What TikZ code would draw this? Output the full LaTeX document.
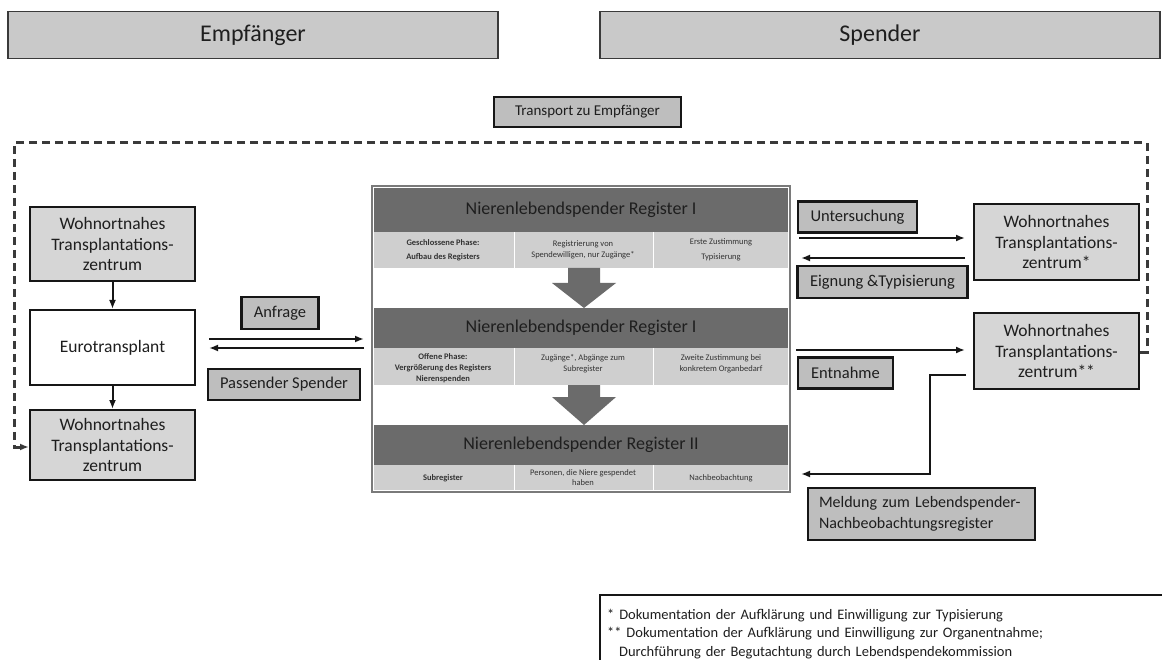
\documentclass[tikz,border=0pt]{standalone}
\usepackage{fontspec}
\setmainfont{Carlito}
\usetikzlibrary{arrows.meta,calc}
\definecolor{hdr}{HTML}{C9C9C9}
\definecolor{hdrline}{HTML}{3A3A3A}
\definecolor{lblfill}{HTML}{BEBEBE}
\definecolor{wfill}{HTML}{D6D6D6}
\definecolor{darkbar}{HTML}{6B6B6B}
\definecolor{lightrow}{HTML}{CFCFCF}
\definecolor{txt}{HTML}{1E1E1E}
\definecolor{smalltxt}{HTML}{333333}
\definecolor{panelline}{HTML}{7A7A7A}
\definecolor{lineclr}{HTML}{161616}
\begin{document}
\begin{tikzpicture}[x=1pt,y=-1pt,
  hdrbox/.style={draw=hdrline, line width=1.5pt, fill=hdr, text=txt, inner sep=0pt,
    font=\fontsize{24}{28}\selectfont},
  lbl/.style={draw=lineclr, line width=2.5pt, fill=lblfill, text=txt, inner sep=0pt,
    font=\fontsize{16.5}{20}\selectfont},
  wbox/.style={draw=lineclr, line width=2pt, fill=wfill, text=txt, inner sep=0pt, align=center,
    minimum width=165pt, font=\fontsize{17.5}{20.5}\selectfont},
  regbar/.style={fill=darkbar, inner sep=0pt, minimum width=414pt, text=txt,
    font=\fontsize{18}{22}\selectfont},
  regrow/.style={fill=lightrow, inner sep=0pt, minimum width=414pt},
  coltxt/.style={text=smalltxt, align=center, inner sep=0pt, font=\fontsize{8.5}{11}\selectfont},
  colbold/.style={coltxt, font=\fontsize{8.5}{11}\selectfont\bfseries},
  conn/.style={line width=2pt, draw=lineclr},
  arr/.style={conn, -{Latex[length=9pt,width=7pt]}},
  dashln/.style={line width=3pt, draw=hdrline, dash pattern=on 8pt off 5pt,
    -{Latex[length=9pt,width=7pt]}},
  blk/.style={fill=darkbar}
]
\useasboundingbox (0,0) rectangle (1162,660);
\clip (0,0) rectangle (1162,660);

% headers
\node[hdrbox, minimum width=490pt, minimum height=47pt] (hemp) at (253,35) {Empfänger};
\node[hdrbox, minimum width=560pt, minimum height=47pt] (hspe) at (880,35) {Spender};

% transport label
\node[lbl, minimum width=187pt, minimum height=30pt, font=\fontsize{15}{18}\selectfont] (trans) at (587.5,112) {Transport zu Empfänger};

% left column
\node[wbox, minimum height=74pt] (lw1) at (112.5,244) {Wohnortnahes\\Transplantations-\\zentrum};
\node[wbox, minimum height=75pt, fill=white] (euro) at (112.5,347.5) {Eurotransplant};
\node[wbox, minimum height=70pt] (lw2) at (112.5,445) {Wohnortnahes\\Transplantations-\\zentrum};

\node[lbl, minimum width=77pt, minimum height=32pt] (anf) at (280,313) {Anfrage};
\node[lbl, minimum width=152pt, minimum height=31pt] (pass) at (284,384.5) {Passender Spender};

% central register panel
\node[draw=panelline, line width=2pt, fill=white, minimum width=418pt, minimum height=306pt, inner sep=0pt] (panel) at (581,339) {};

\node[regbar, minimum height=44pt] (r1) at (581,210) {Nierenlebendspender Register I};
\node[regrow, minimum height=36pt] (r1row) at (581,250) {};
\node[regbar, minimum height=40pt] (r2) at (581,328) {Nierenlebendspender Register I};
\node[regrow, minimum height=37pt] (r2row) at (581,366.5) {};
\node[regbar, minimum height=40pt] (r3) at (581,445) {Nierenlebendspender Register II};
\node[regrow, minimum height=25pt] (r3row) at (581,477.5) {};

\foreach \r in {r1row,r2row,r3row}{
  \draw[white, line width=1pt] (514,0 |- \r.north) -- (514,0 |- \r.south);
  \draw[white, line width=1pt] (653,0 |- \r.north) -- (653,0 |- \r.south);
}

\node[colbold, font=\fontsize{8.5}{14.5}\selectfont\bfseries] (c11) at (443,250) {Geschlossene Phase:\\Aufbau des Registers};
\node[coltxt] (c12) at (583,250) {Registrierung von\\Spendewilligen, nur Zugänge*};
\node[coltxt, font=\fontsize{8.5}{14.5}\selectfont] (c13) at (721,250) {Erste Zustimmung\\Typisierung};

\node[colbold] (c21) at (443,368) {Offene Phase:\\Vergrößerung des Registers\\Nierenspenden};
\node[coltxt] (c22) at (583,364) {Zugänge*, Abgänge zum\\Subregister};
\node[coltxt] (c23) at (721,364) {Zweite Zustimmung bei\\konkretem Organbedarf};

\node[colbold] (c31) at (443,478) {Subregister};
\node[coltxt, font=\fontsize{8.5}{10}\selectfont] (c32) at (583,478) {Personen, die Niere gespendet\\haben};
\node[coltxt] (c33) at (721,478) {Nachbeobachtung};

% block arrows
\fill[blk] (568,268) -- (600,268) -- (600,283) -- (616,283) -- (584,308) -- (552,283) -- (568,283) -- cycle;
\fill[blk] (568,385) -- (600,385) -- (600,397) -- (616,397) -- (584,425) -- (552,397) -- (568,397) -- cycle;

% right column
\node[wbox, minimum height=76pt] (rw1) at (1056.5,242) {Wohnortnahes\\Transplantations-\\zentrum*};
\node[wbox, minimum height=76pt] (rw2) at (1056.5,351) {Wohnortnahes\\Transplantations-\\zentrum**};

\node[lbl, minimum width=119pt, minimum height=31pt] (unt) at (857.5,217) {Untersuchung};
\node[lbl, minimum width=170pt, minimum height=32pt] (eig) at (882.5,282) {Eignung \&Typisierung};
\node[lbl, minimum width=95pt, minimum height=31pt] (ent) at (845.5,373) {Entnahme};
\node[lbl, minimum width=227pt, minimum height=52pt, text width=205pt, inner xsep=11pt, align=left,
  font=\fontsize{16}{21}\selectfont] (meld) at (921.5,514) {Meldung zum Lebendspender-\\Nachbeobachtungsregister};

% footnote box (extends beyond the page at right and bottom)
\node[anchor=north west, inner xsep=7pt, inner ysep=14pt,
  text width=600pt, align=left, text=txt,
  font=\fontsize{14.5}{18.5}\selectfont] (foot) at (600,595)
  {* Dokumentation der Aufklärung und Einwilligung zur Typisierung\\{}%
   ** Dokumentation der Aufklärung und Einwilligung zur Organentnahme;\\{}%
   \hspace*{12pt}Durchführung der Begutachtung durch Lebendspendekommission};
\draw[draw=lineclr, line width=1.5pt] ($(foot.south west)+(0,40)$) -- (foot.north west) -- (foot.north east);

% connectors left
\draw[arr] (lw1) -- (euro);
\draw[arr] (euro) -- (lw2);
\draw[arr] ($(euro.east)+(13,-8.5)$) -- ($(panel.west)+(-7,0)$);
\draw[arr] ($(panel.west)+(-7,9)$) -- ($(euro.east)+(13,0.5)$);

% connectors right
\draw[arr] ($(panel.east |- rw1.west)+(8,-4)$) -- ($(rw1.west)+(-8,-4)$);
\draw[arr] ($(rw1.west)+(-8,16)$) -- ($(panel.east |- rw1.west)+(10,16)$);
\draw[arr] ($(panel.east |- rw2.west)+(5,-1)$) -- ($(rw2.west)+(-8,-1)$);
\coordinate (mk) at (930,474);
\draw[arr] ($(rw2.west)+(-7,24)$) -| (mk) -- ($(panel.east)+(10,135)$);

% dashed transport loop
\coordinate (dr) at (1147,143);
\coordinate (dl) at (14,143);
\draw[dashln] ($(rw2.east)+(0,1)$) -| (dr) -- (dl) |- ($(lw2.west)+(0,2)$);
\end{tikzpicture}
\end{document}
